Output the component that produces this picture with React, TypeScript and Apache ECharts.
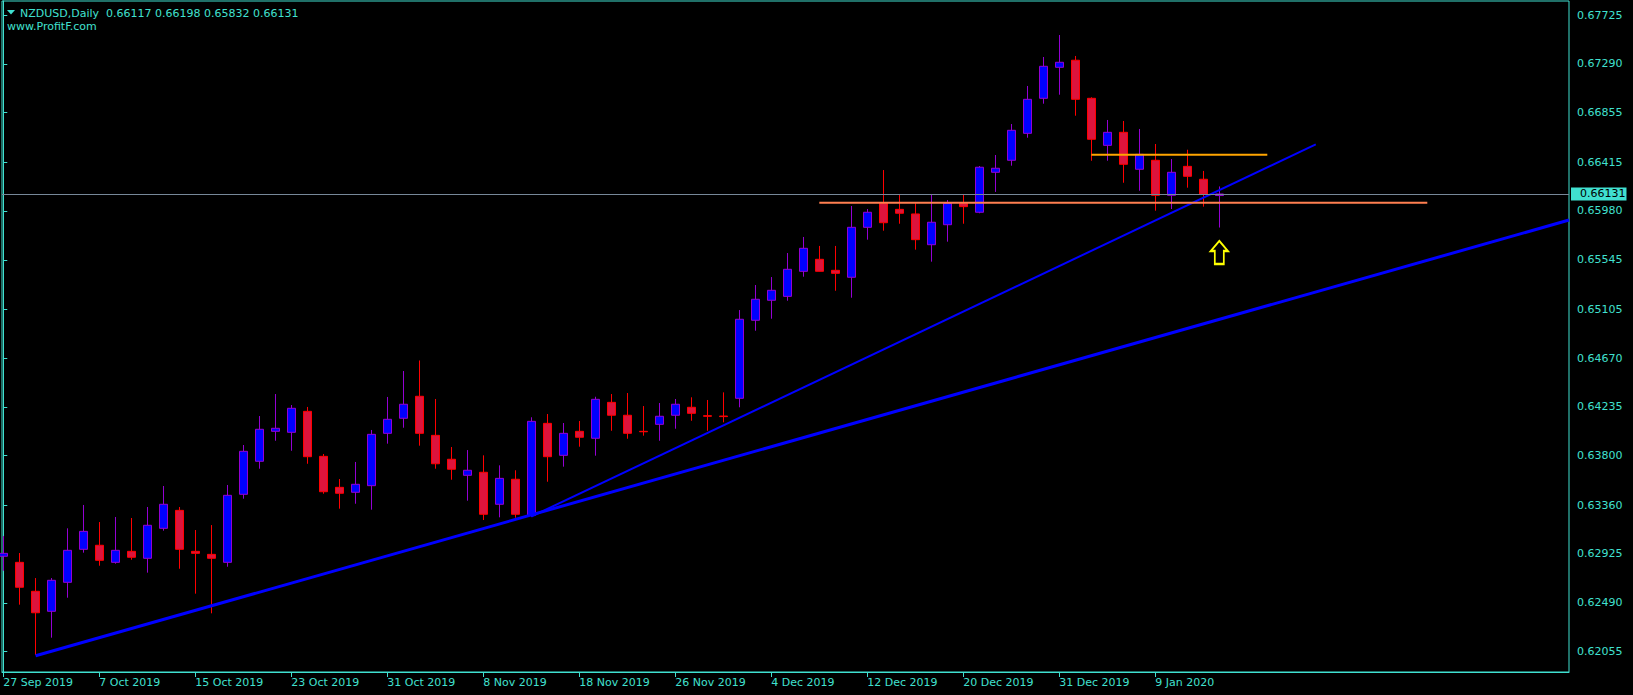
import React, { useEffect, useRef } from "react";
import * as echarts from "echarts";

const dates = [
  "27 Sep 2019", "30 Sep 2019", "1 Oct 2019", "2 Oct 2019", "3 Oct 2019", "4 Oct 2019",
  "7 Oct 2019", "8 Oct 2019", "9 Oct 2019", "10 Oct 2019", "11 Oct 2019", "14 Oct 2019",
  "15 Oct 2019", "16 Oct 2019", "17 Oct 2019", "18 Oct 2019", "21 Oct 2019", "22 Oct 2019",
  "23 Oct 2019", "24 Oct 2019", "25 Oct 2019", "28 Oct 2019", "29 Oct 2019", "30 Oct 2019",
  "31 Oct 2019", "1 Nov 2019", "4 Nov 2019", "5 Nov 2019", "6 Nov 2019", "7 Nov 2019",
  "8 Nov 2019", "11 Nov 2019", "12 Nov 2019", "13 Nov 2019", "14 Nov 2019", "15 Nov 2019",
  "18 Nov 2019", "19 Nov 2019", "20 Nov 2019", "21 Nov 2019", "22 Nov 2019", "25 Nov 2019",
  "26 Nov 2019", "27 Nov 2019", "28 Nov 2019", "29 Nov 2019", "2 Dec 2019", "3 Dec 2019",
  "4 Dec 2019", "5 Dec 2019", "6 Dec 2019", "9 Dec 2019", "10 Dec 2019", "11 Dec 2019",
  "12 Dec 2019", "13 Dec 2019", "16 Dec 2019", "17 Dec 2019", "18 Dec 2019", "19 Dec 2019",
  "20 Dec 2019", "23 Dec 2019", "24 Dec 2019", "26 Dec 2019", "27 Dec 2019", "30 Dec 2019",
  "31 Dec 2019", "2 Jan 2020", "3 Jan 2020", "6 Jan 2020", "7 Jan 2020", "8 Jan 2020",
  "9 Jan 2020", "10 Jan 2020", "13 Jan 2020", "14 Jan 2020", "15 Jan 2020",
];

const open = [
  0.62904, 0.6285, 0.62592, 0.62414, 0.62672, 0.62966, 0.63002, 0.6285, 0.62948, 0.62886,
  0.63153, 0.63313, 0.62948, 0.62921, 0.6285, 0.63456, 0.6375, 0.64017, 0.64008, 0.64195,
  0.63794, 0.63518, 0.63474, 0.63533, 0.63999, 0.64133, 0.64329, 0.63981, 0.63768, 0.63625,
  0.63652, 0.63367, 0.6359, 0.63269, 0.64088, 0.63803, 0.64017, 0.63955, 0.64275, 0.6416,
  0.64017, 0.64079, 0.6416, 0.64231, 0.64156, 0.64153, 0.64311, 0.65006, 0.65184, 0.65219,
  0.65442, 0.65549, 0.65451, 0.65389, 0.65834, 0.66048, 0.65994, 0.65953, 0.65679, 0.65857,
  0.66048, 0.65968, 0.66324, 0.66431, 0.66671, 0.66983, 0.67259, 0.67322, 0.66983, 0.66564,
  0.6668, 0.66351, 0.66431, 0.66119, 0.66377, 0.66262, 0.66117,
];
const high = [
  0.63084, 0.62933, 0.6271, 0.6271, 0.63153, 0.63361, 0.63209, 0.63254, 0.63245, 0.63343,
  0.6353, 0.63343, 0.63138, 0.63182, 0.63539, 0.63895, 0.64153, 0.64349, 0.64251, 0.64234,
  0.63815, 0.63592, 0.63744, 0.64029, 0.64323, 0.64554, 0.64648, 0.64305, 0.63877, 0.6385,
  0.63803, 0.63714, 0.6367, 0.64142, 0.64171, 0.64091, 0.64109, 0.64325, 0.64349, 0.64358,
  0.64242, 0.64269, 0.64305, 0.6432, 0.64296, 0.64364, 0.65097, 0.6532, 0.65391, 0.65605,
  0.65748, 0.65668, 0.65668, 0.66024, 0.65997, 0.66344, 0.66131, 0.66048, 0.66122, 0.66077,
  0.66131, 0.6638, 0.66478, 0.66754, 0.67093, 0.67351, 0.67547, 0.6736, 0.66992, 0.6679,
  0.66781, 0.6671, 0.66576, 0.66442, 0.66525, 0.66336, 0.66198,
];
const low = [
  0.62775, 0.62473, 0.62025, 0.62179, 0.62535, 0.62936, 0.6282, 0.62838, 0.62873, 0.62758,
  0.63132, 0.62793, 0.62571, 0.62396, 0.62811, 0.63417, 0.63684, 0.63933, 0.63844, 0.63728,
  0.63461, 0.63328, 0.63372, 0.63319, 0.63907, 0.64049, 0.63889, 0.63684, 0.63586, 0.63399,
  0.63227, 0.63251, 0.63247, 0.63256, 0.63568, 0.63702, 0.6388, 0.638, 0.64022, 0.63951,
  0.63978, 0.63933, 0.6404, 0.64111, 0.64022, 0.64097, 0.64231, 0.64913, 0.6502, 0.6518,
  0.65394, 0.6544, 0.65269, 0.65207, 0.65724, 0.65804, 0.65866, 0.65635, 0.65528, 0.65706,
  0.65866, 0.65959, 0.66149, 0.66383, 0.66632, 0.66935, 0.67015, 0.66828, 0.66427, 0.66427,
  0.66231, 0.6616, 0.65982, 0.65997, 0.66187, 0.66018, 0.65832,
];
const close = [
  0.6293, 0.62628, 0.62401, 0.6269, 0.62957, 0.63126, 0.62868, 0.62957, 0.62895, 0.6318,
  0.63367, 0.62966, 0.6293, 0.62886, 0.63447, 0.63839, 0.64035, 0.64044, 0.64222, 0.63791,
  0.63479, 0.63465, 0.63545, 0.6399, 0.64124, 0.64258, 0.63999, 0.63728, 0.63679, 0.6367,
  0.63278, 0.63598, 0.63278, 0.64106, 0.63791, 0.63999, 0.63964, 0.64302, 0.6416, 0.63999,
  0.64013, 0.64151, 0.64258, 0.64177, 0.64151, 0.64148, 0.65015, 0.65193, 0.65273, 0.6546,
  0.65647, 0.65442, 0.65424, 0.65834, 0.65968, 0.65875, 0.65959, 0.65724, 0.65879, 0.66048,
  0.66018, 0.66369, 0.6636, 0.66698, 0.66974, 0.67268, 0.67304, 0.66974, 0.66618, 0.6668,
  0.66395, 0.66484, 0.66119, 0.66324, 0.66288, 0.66128, 0.66131,
];

const priceTicks = [
  0.67725, 0.6729, 0.66855, 0.66415, 0.6598, 0.65545, 0.65105, 0.6467, 0.64235, 0.638,
  0.6336, 0.62925, 0.6249, 0.62055,
];
const dateTickIndex = [0, 6, 12, 18, 24, 30, 36, 42, 48, 54, 60, 66, 72];

const lastPrice = 0.66131;
const thickTrend = [[2.02, 0.62018], [97.86, 0.65899]];
const thinTrend = [[33, 0.63258], [82.03, 0.66573]];
const orangeLevel = [[68, 0.66481], [79, 0.66481]];
const coralLevel = [[51, 0.66053], [89, 0.66053]];
const arrowPoint = [76, 0.6561];

const X_MIN = -0.081;
const X_MAX = 97.856;
const Y_MIN = 0.618733;
const Y_MAX = 0.678497;

const TQ = "#40E0D0";
const FONT = "DejaVu Sans";

function buildOption(): any {
  const n = dates.length - 1;
  const header =
    "NZDUSD,Daily  " +
    [open[n], high[n], low[n], close[n]].map((v) => v.toFixed(5)).join(" ");
  const candles = dates.map((_, i) => [i, open[i], close[i], low[i], high[i]]);
  const lineSeries = (data: number[][], color: string, width: number) => ({
    type: "line",
    data,
    symbol: "none",
    silent: true,
    z: 5,
    lineStyle: { color, width, type: "solid" },
  });
  return {
    animation: false,
    backgroundColor: "#000000",
    grid: {
      left: 2,
      right: 64,
      top: 1,
      bottom: 23,
      show: true,
      borderColor: TQ,
      borderWidth: 1,
      backgroundColor: "#000000",
      containLabel: false,
      outerBoundsMode: "none",
    },
    xAxis: {
      type: "value",
      min: X_MIN,
      max: X_MAX,
      axisLine: { show: true, lineStyle: { color: TQ, width: 1 } },
      axisTick: {
        show: true,
        length: 5,
        customValues: dateTickIndex,
        lineStyle: { color: TQ },
      },
      axisLabel: {
        show: true,
        customValues: dateTickIndex,
        formatter: (v: number) => dates[Math.round(v)] ?? "",
        align: "left",
        margin: 5,
        color: TQ,
        fontSize: 11,
        fontFamily: FONT,
      },
      splitLine: { show: false },
    },
    yAxis: {
      type: "value",
      position: "right",
      min: Y_MIN,
      max: Y_MAX,
      axisLine: { show: true, lineStyle: { color: TQ, width: 1 } },
      axisTick: {
        show: true,
        length: 4,
        customValues: priceTicks,
        lineStyle: { color: TQ },
      },
      axisLabel: {
        show: true,
        customValues: priceTicks,
        formatter: (v: number) => v.toFixed(5),
        margin: 8,
        color: TQ,
        fontSize: 11,
        fontFamily: FONT,
      },
      splitLine: { show: false },
    },
    graphic: [
      {
        type: "polygon",
        z: 100,
        shape: { points: [[7, 10], [15, 10], [11, 14.5]] },
        style: { fill: TQ },
      },
      {
        type: "text",
        z: 100,
        x: 20,
        y: 13,
        style: {
          text: header,
          fill: TQ,
          font: '11px "DejaVu Sans"',
          verticalAlign: "middle",
          align: "left",
        },
      },
      {
        type: "text",
        z: 100,
        x: 7,
        y: 26,
        style: {
          text: "www.ProfitF.com",
          fill: TQ,
          font: '11px "DejaVu Sans"',
          verticalAlign: "middle",
          align: "left",
        },
      },
    ],
    series: [
      {
        type: "candlestick",
        data: candles,
        barWidth: 9,
        clip: true,
        itemStyle: {
          color: "#0000FF",
          color0: "#DC143C",
          borderColor: "#9400D3",
          borderColor0: "#FF0000",
          borderWidth: 1,
        },
        markLine: {
          silent: true,
          symbol: "none",
          precision: 5,
          data: [{ yAxis: lastPrice }],
          lineStyle: { color: "#778899", width: 1, type: "solid" },
          label: {
            show: true,
            position: "end",
            distance: 2,
            formatter: lastPrice.toFixed(5),
            backgroundColor: TQ,
            color: "#000000",
            padding: [1, 1, 1, 9],
            fontSize: 11,
            lineHeight: 11,
            fontFamily: FONT,
          },
          z: 6,
        },
        markPoint: {
          silent: true,
          data: [
            {
              coord: arrowPoint,
              symbol: "path://M8.5,0 L17,10 L13,10 L13,23 L4,23 L4,10 L0,10 Z",
              symbolSize: [17, 23],
              itemStyle: { color: "#000000", borderColor: "#FFFF00", borderWidth: 2 },
              label: { show: false },
            },
          ],
        },
      },
      lineSeries(thickTrend, "#0000FF", 3),
      lineSeries(thinTrend, "#0000FF", 2),
      lineSeries(orangeLevel, "#FFA500", 2),
      lineSeries(coralLevel, "#FF7F50", 2),
    ],
  };
}

export default function App() {
  const ref = useRef<HTMLDivElement>(null);
  useEffect(() => {
    if (!ref.current) return;
    const chart = echarts.init(ref.current, null, { renderer: "svg" });
    chart.setOption(buildOption());
    return () => chart.dispose();
  }, []);
  return (
    <div
      ref={ref}
      style={{ position: "absolute", left: 0, top: 0, width: 1633, height: 695 }}
    />
  );
}
